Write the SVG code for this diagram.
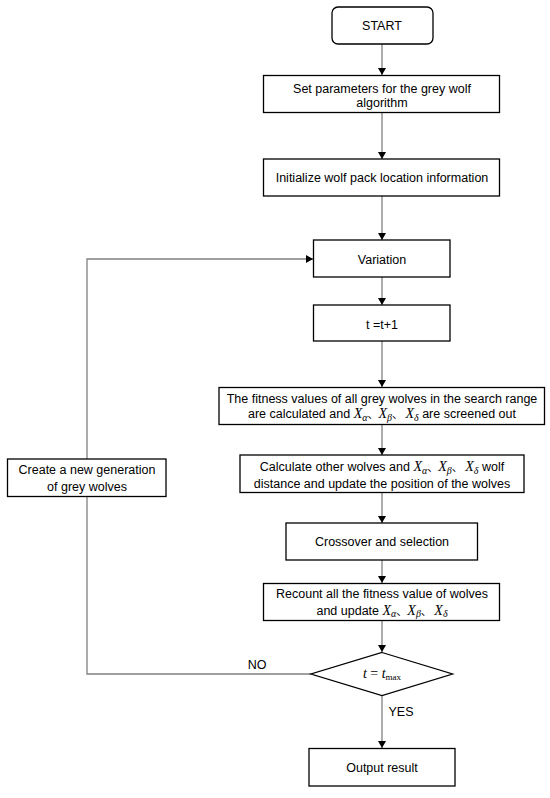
<svg xmlns="http://www.w3.org/2000/svg" width="550" height="798" viewBox="0 0 550 798">
<style>
.box{fill:#fff;stroke:#000;stroke-width:1.3}
.t{font-family:"Liberation Sans","Noto Sans CJK SC",sans-serif;font-size:12.5px;fill:#000;text-anchor:middle}
.m{font-family:"Liberation Serif","Noto Sans CJK SC",serif;font-style:italic;font-size:14px}
.s{font-size:10px}
.c{font-family:"Noto Sans CJK SC",sans-serif;font-style:normal;font-size:11px}
.ln{fill:none;stroke:#808080;stroke-width:1.3}
</style>
<defs>
<marker id="ah" markerWidth="8" markerHeight="8" refX="7" refY="4" orient="auto" markerUnits="userSpaceOnUse">
<path d="M0,0 L7,4 L0,8 Z" fill="#000"/>
</marker>
</defs>
<g id="connectors">
<line class="ln" x1="382" y1="44" x2="382" y2="75" marker-end="url(#ah)"/>
<line class="ln" x1="382" y1="113" x2="382" y2="159" marker-end="url(#ah)"/>
<line class="ln" x1="382" y1="196" x2="382" y2="240" marker-end="url(#ah)"/>
<line class="ln" x1="382" y1="277" x2="382" y2="305" marker-end="url(#ah)"/>
<line class="ln" x1="382" y1="341" x2="382" y2="387" marker-end="url(#ah)"/>
<line class="ln" x1="382" y1="425" x2="382" y2="455" marker-end="url(#ah)"/>
<line class="ln" x1="382" y1="493" x2="382" y2="523" marker-end="url(#ah)"/>
<line class="ln" x1="382" y1="560" x2="382" y2="583" marker-end="url(#ah)"/>
<line class="ln" x1="382" y1="621" x2="382" y2="652" marker-end="url(#ah)"/>
<line class="ln" x1="382" y1="695" x2="382" y2="748" marker-end="url(#ah)"/>
<polyline class="ln" points="311,674 87,674 87,259 313,259" marker-end="url(#ah)"/>
<text class="t" x="257" y="669">NO</text>
<text class="t" x="401" y="716">YES</text>
</g>
<g id="start">
<rect class="box" x="332" y="7" width="101" height="37" rx="6"/>
<text class="t" x="382" y="30">START</text>
</g>
<g id="set-params">
<rect class="box" x="263.5" y="75.5" width="236" height="37"/>
<text class="t" x="382" y="92.5">Set parameters for the grey wolf</text>
<text class="t" x="382" y="106.5">algorithm</text>
</g>
<g id="init">
<rect class="box" x="263.5" y="159" width="236" height="37"/>
<text class="t" x="382" y="182">Initialize wolf pack location information</text>
</g>
<g id="variation">
<rect class="box" x="313.5" y="240" width="136.5" height="37"/>
<text class="t" x="382" y="263.5">Variation</text>
</g>
<g id="increment">
<rect class="box" x="313.5" y="305" width="136.5" height="36"/>
<text class="t" x="382" y="329">t =t+1</text>
</g>
<g id="fitness">
<rect class="box" x="219" y="387.5" width="325.5" height="37"/>
<text class="t" x="382" y="402.5">The fitness values of all grey wolves in the search range</text>
<text class="t" x="382" y="418">are calculated and <tspan class="m">X</tspan><tspan class="m s" dy="2.5">α</tspan><tspan class="c" dy="-2.5">、</tspan><tspan class="m">X</tspan><tspan class="m s" dy="2.5">β</tspan><tspan class="c" dy="-2.5">、 </tspan><tspan class="m">X</tspan><tspan class="m s" dy="2.5">δ</tspan><tspan dy="-2.5"> are screened out</tspan></text>
</g>
<g id="calculate">
<rect class="box" x="240" y="455" width="284" height="37.5"/>
<text class="t" x="382" y="471">Calculate other wolves and <tspan class="m">X</tspan><tspan class="m s" dy="2.5">α</tspan><tspan class="c" dy="-2.5">、</tspan><tspan class="m">X</tspan><tspan class="m s" dy="2.5">β</tspan><tspan class="c" dy="-2.5">、 </tspan><tspan class="m">X</tspan><tspan class="m s" dy="2.5">δ</tspan><tspan dy="-2.5"> wolf</tspan></text>
<text class="t" x="382" y="487.5">distance and update the position of the wolves</text>
</g>
<g id="crossover">
<rect class="box" x="286" y="523" width="191.5" height="37"/>
<text class="t" x="382" y="546">Crossover and selection</text>
</g>
<g id="recount">
<rect class="box" x="263.5" y="583.5" width="236" height="37"/>
<text class="t" x="382" y="598">Recount all the fitness value of wolves</text>
<text class="t" x="382" y="614.5">and update <tspan class="m">X</tspan><tspan class="m s" dy="2.5">α</tspan><tspan class="c" dy="-2.5">、</tspan><tspan class="m">X</tspan><tspan class="m s" dy="2.5">β</tspan><tspan class="c" dy="-2.5">、 </tspan><tspan class="m">X</tspan><tspan class="m s" dy="2.5">δ</tspan></text>
</g>
<g id="decision">
<polygon class="box" points="382,652.5 452.5,674 382,695.5 311,674"/>
<text class="t" x="382" y="678"><tspan class="m">t</tspan><tspan font-family="Liberation Serif" font-size="14px"> = </tspan><tspan class="m">t</tspan><tspan font-family="Liberation Serif" font-size="9px" dy="2">max</tspan></text>
</g>
<g id="output">
<rect class="box" x="309" y="748.5" width="146" height="37.5"/>
<text class="t" x="382" y="772">Output result</text>
</g>
<g id="new-generation">
<rect class="box" x="7.5" y="459" width="158.5" height="37.5"/>
<text class="t" x="87" y="474">Create a new generation</text>
<text class="t" x="87" y="491">of grey wolves</text>
</g>
</svg>
